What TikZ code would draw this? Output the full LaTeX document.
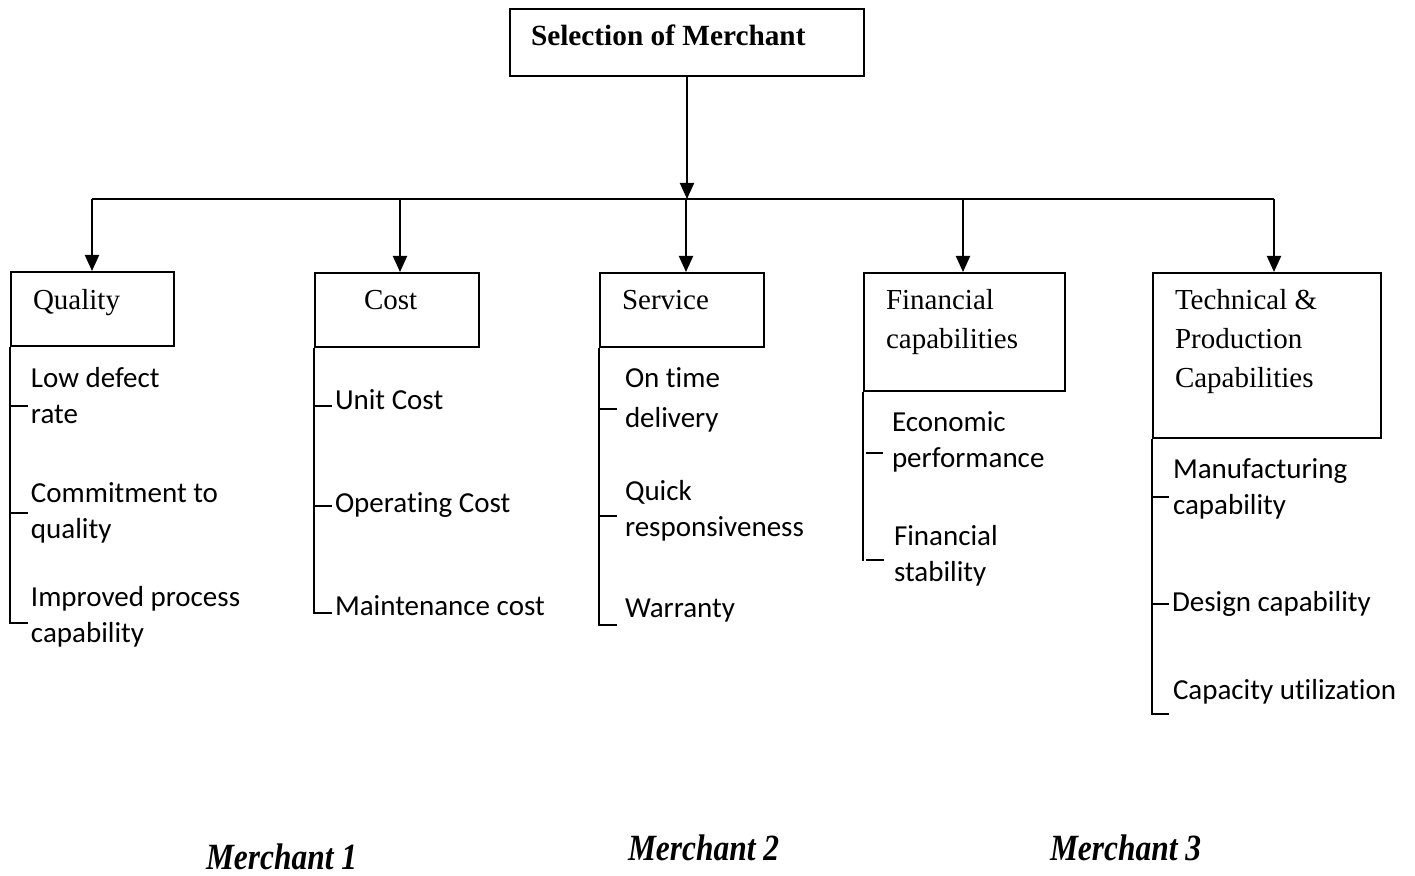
\documentclass[tikz,border=0pt]{standalone}
\usepackage{fontspec}
\setmainfont{Liberation Serif}
\newfontfamily\calfont[Ligatures=NoCommon]{Carlito}
\newfontfamily\merchfont[FakeStretch=0.85]{Liberation Serif}
\usetikzlibrary{arrows.meta,fit}
\begin{document}
\begin{tikzpicture}[x=0.5pt,y=-0.5pt,line width=1pt,
  box/.style={draw,inner sep=0pt,fit={#1}},
  head/.style={anchor=base west,inner sep=0pt,align=left,font=\fontsize{14.5pt}{19.5pt}\selectfont},
  item/.style={anchor=base west,inner sep=0pt,align=left,font=\calfont\fontsize{14.5pt}{18pt}\selectfont},
  merch/.style={anchor=base west,inner sep=0pt,font=\merchfont\bfseries\itshape\fontsize{18.5pt}{20pt}\selectfont},
  arr/.style={-{Triangle[width=7pt,length=8pt]}}]
\useasboundingbox (0,0) rectangle (1415,876);

% boxes
\node[box={(510,9) (864,76)}] (top) {};
\node[box={(11,272) (174,346)}] (qual) {};
\node[box={(315,273) (479,347)}] (cost) {};
\node[box={(600,273) (764,347)}] (serv) {};
\node[box={(864,273) (1065,391)}] (fin) {};
\node[box={(1153,273) (1381,438)}] (tech) {};

% box texts (multi-line nodes: anchor at baseline of last line)
\node[anchor=base west,inner sep=0pt,font=\bfseries\fontsize{14.65pt}{18pt}\selectfont] (ttl) at (530,46) {Selection of Merchant};
\node[head] (qualt) at (32,310) {Quality};
\node[head] (costt) at (363,310) {Cost};
\node[head] (servt) at (621,310) {Service};
\node[head] (fint) at (885,349) {Financial\\capabilities};
\node[head] (techt) at (1174,388) {Technical \&\\Production\\Capabilities};

% connectors
\coordinate (bus) at (top.south |- 0,199);
\coordinate (bq) at (92,199);
\coordinate (bc) at (400,199);
\coordinate (bs) at (686,199);
\coordinate (bf) at (963,199);
\coordinate (bt) at (1274,199);
\draw[arr] (top.south) -- (bus);
\draw (bq) -- (bt);
\draw[arr] (bq) -- (bq |- qual.north);
\draw[arr] (bc) -- (bc |- cost.north);
\draw[arr] (bs) -- (bs |- serv.north);
\draw[arr] (bf) -- (bf |- fin.north);
\draw[arr] (bt) -- (bt |- tech.north);

% brackets
\draw (qual.south west) |- ++(18,276);
\draw (qual.south west |- 0,406) -- ++(18,0);
\draw (qual.south west |- 0,513) -- ++(18,0);

\draw (cost.south west) |- ++(18,265);
\draw (cost.south west |- 0,406) -- ++(18,0);
\draw (cost.south west |- 0,506) -- ++(18,0);

\draw (serv.south west) |- ++(18,277);
\draw (serv.south west |- 0,409) -- ++(18,0);
\draw (serv.south west |- 0,516) -- ++(18,0);

\draw (fin.south west) -- ++(0,169);
\draw (fin.south west |- 0,453) ++(3,0) -- ++(17,0);
\draw (fin.south west |- 0,560) ++(3,0) -- ++(18,0);

\draw (tech.south west) |- ++(17,275);
\draw (tech.south west |- 0,497) -- ++(17,0);
\draw (tech.south west |- 0,604) -- ++(17,0);

% items
\node[item] (q1) at (30,424) {Low defect\\rate};
\node[item] (q2) at (30,539) {Commitment to\\quality};
\node[item] (q3) at (30,643) {Improved process\\capability};
\node[item] (c1) at (334,410) {Unit Cost};
\node[item] (c2) at (334,513) {Operating Cost};
\node[item] (c3) at (334,616) {Maintenance cost};
\node[item,font=\calfont\fontsize{14.5pt}{20pt}\selectfont] (s1) at (624,428) {On time\\delivery};
\node[item] (s2) at (624,537) {Quick\\responsiveness};
\node[item] (s3) at (624,618) {Warranty};
\node[item] (f1) at (891,468) {Economic\\performance};
\node[item] (f2) at (893,582) {Financial\\stability};
\node[item] (t1) at (1172,515) {Manufacturing\\capability};
\node[item] (t2) at (1171,612) {Design capability};
\node[item] (t3) at (1172,700) {Capacity utilization};

% merchants
\node[merch] (m1) at (205,870) {Merchant 1};
\node[merch] (m2) at (627,861) {Merchant 2};
\node[merch] (m3) at (1049,861) {Merchant 3};
\end{tikzpicture}
\end{document}
